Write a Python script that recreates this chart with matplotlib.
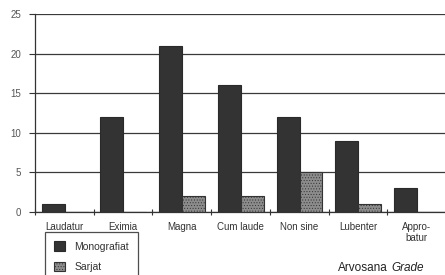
import matplotlib
matplotlib.use("Agg")
import matplotlib.pyplot as plt
import numpy as np

plt.rcParams['font.family'] = ['Liberation Sans', 'DejaVu Sans']
plt.rcParams['hatch.color'] = '#555555'
plt.rcParams['hatch.linewidth'] = 0.4

# data
grades = ['Laudatur', 'Eximia', 'Magna', 'Cum laude', 'Non sine', 'Lubenter', 'Appro-\nbatur']
monografiat = [1, 12, 21, 16, 12, 9, 3]
sarjat = [0, 0, 2, 2, 5, 1, 0]
yticks = [0, 5, 10, 15, 20, 25]

fig = plt.figure(figsize=(4.45, 2.75), dpi=100)
ax = fig.add_axes([35/445, 1 - 212/275, 411/445, 198/275])

x = np.arange(len(grades))
w = 0.39
b1 = ax.bar(x - 0.19, monografiat, w, color='#333333', edgecolor='#2a2a2a', linewidth=0.8,
            label='Monografiat', zorder=3)
b2 = ax.bar(x + 0.2, sarjat, w, color='#8c8c8c', edgecolor='#333333', linewidth=0.8,
            hatch='......', label='Sarjat', zorder=3)

ax.set_xlim(-0.5, 6.5)
ax.set_ylim(0, 25)
ax.set_yticks(yticks)
ax.yaxis.grid(True, color='#3a3a3a', linewidth=0.9, zorder=0)
ax.tick_params(axis='y', labelsize=7, labelcolor='#555555', length=4, width=0.8,
               color='#333333', pad=6)

# boundaries between groups carry the tick marks, names sit in the middle
ax.set_xticks(np.arange(-0.5, 7, 1))
ax.set_xticklabels([])
ax.tick_params(axis='x', which='major', direction='inout', length=5, width=0.8, color='#333333')
ax.set_xticks(x, minor=True)
ax.set_xticklabels(grades, minor=True, fontsize=7, color='#333333', linespacing=1.1)
ax.tick_params(axis='x', which='minor', length=0, pad=7)

for s in ['top', 'right']:
    ax.spines[s].set_visible(False)
ax.spines['left'].set_color('#333333')
ax.spines['bottom'].set_color('#333333')
ax.spines['left'].set_linewidth(0.9)
ax.spines['bottom'].set_linewidth(0.9)

leg = fig.legend(handles=[b1, b2], loc='upper left', bbox_to_anchor=(45/445, 1 - 232/275),
                 fontsize=7.5, frameon=True, fancybox=False, edgecolor='#222222',
                 handlelength=1.0, handleheight=1.0, labelspacing=1.0, borderpad=0.9,
                 handletextpad=0.9, borderaxespad=0)
leg.get_frame().set_linewidth(0.9)
for t in leg.get_texts():
    t.set_color('#333333')

fig.text(338/445, 1 - 268/275, 'Arvosana', fontsize=8.5, color='#222222', va='center')
fig.text(391/445, 1 - 268/275, 'Grade', fontsize=8.5, style='italic', color='#222222', va='center')

fig.savefig('out.png', dpi=100)
